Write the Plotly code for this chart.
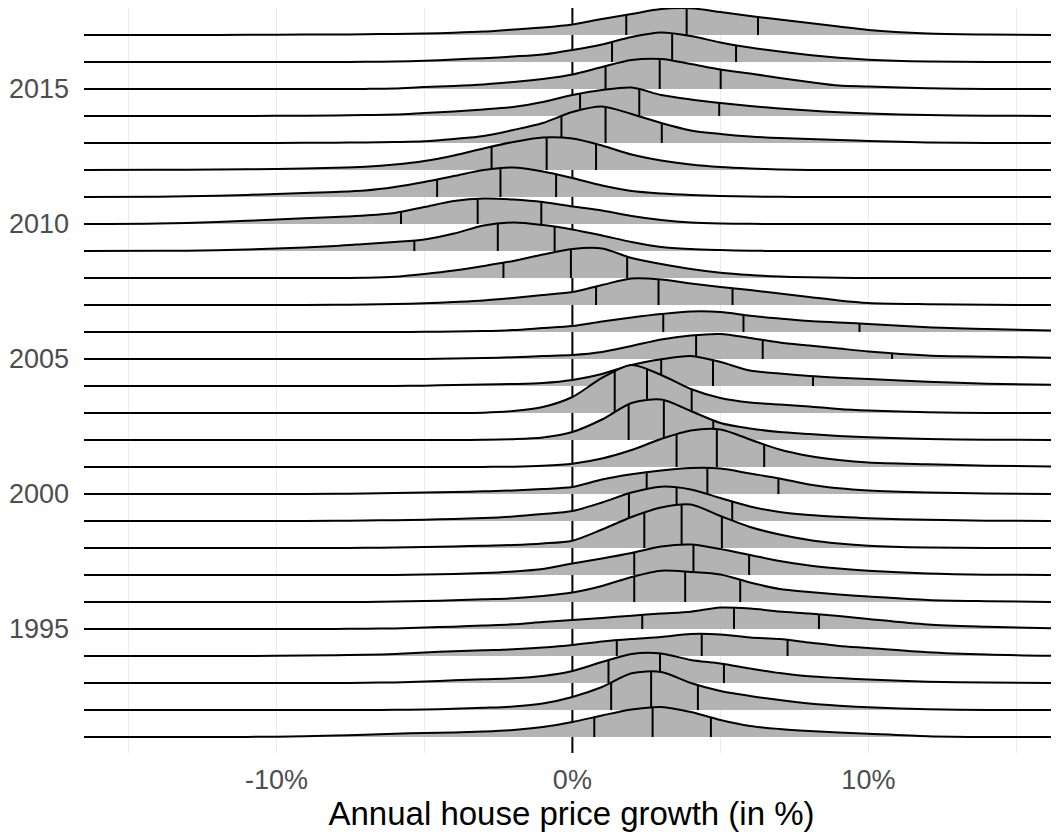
"""
Ridgeline plot of annual house price growth by year, with quartile lines.
"""

import numpy as np
import plotly.graph_objects as go

# Growth values (%) at which the ridge heights were read
GROWTH = [-16.5, -14, -12, -10, -8, -7, -6, -5, -4, -3, -2, -1, 0,
          1, 2, 3, 4, 5, 6, 7, 8, 9, 10, 12, 14, 16.5]

# Relative density per year (27 units = one row of the plot)
DENS_1991 = [0, 0, 0, 0.3, 1.5, 2.3, 3.3, 4, 4.5, 5.5, 7, 10, 15, 21.5, 27.5, 30, 25, 17, 11, 8, 6, 4.5, 3.2, 0.8, 0, 0]
DENS_1992 = [0, 0, 0, 0, 0, 0, 0.2, 0.5, 1.2, 2.2, 3.5, 6.5, 13, 23, 36.7, 38, 27, 19, 14, 10, 6.5, 4.3, 2.7, 0.7, 0, 0]
DENS_1993 = [0, 0, 0, 0, 0, 0.2, 0.6, 1.5, 2.7, 3.8, 4.7, 7, 12, 21, 29, 29.5, 23, 19.5, 14.5, 10, 6.7, 5, 3.5, 1.3, 0.5, 0]
DENS_1994 = [0, 0, 0, 0.2, 0.8, 1.2, 2, 3.5, 4.7, 5.7, 6.7, 8.5, 11, 14.5, 17, 19, 22, 21.5, 18.5, 17, 13.5, 10, 8, 3.8, 1.5, 0]
DENS_1995 = [0, 0, 0, 0, 0.1, 0.3, 0.6, 1.5, 2.3, 3.5, 4.7, 7, 9, 11, 13.3, 15.5, 17.3, 21.5, 20.5, 17.5, 15.5, 13, 10, 4.5, 2.3, 0.5]
DENS_1996 = [0, 0, 0, 0, 0, 0.1, 0.5, 1, 1.7, 2.7, 3.7, 6, 9.5, 16, 25, 31.3, 30, 27.5, 19.5, 13, 10, 7.5, 5.5, 2, 0.8, 0]
DENS_1997 = [0, 0, 0, 0, 0, 0, 0.1, 0.5, 1, 2, 3.5, 6, 11.5, 16.5, 22, 28.5, 30.5, 26, 20, 14, 9.5, 6.5, 4.3, 1.5, 0.3, 0]
DENS_1998 = [0, 0, 0, 0, 0, 0.2, 0.5, 1, 1.5, 2.3, 3, 4.5, 7.3, 18.5, 31, 40.5, 43.5, 32, 21, 13.5, 8, 4.5, 2.3, 0.5, 0, 0]
DENS_1999 = [0, 0, 0, 0, 0.2, 0.5, 0.8, 1.3, 2, 3, 4.5, 7, 10, 18.5, 28.5, 34.3, 31.5, 23, 14.5, 9, 6, 4.2, 2.8, 1.2, 0.3, 0]
DENS_2000 = [0, 0, 0, 0, 0.2, 0.5, 1, 1.5, 2, 2.7, 3.5, 5, 7, 14.5, 19.7, 23.5, 26, 25.5, 20.5, 15.5, 9.5, 5.7, 3.5, 1.5, 0.5, 0]
DENS_2001 = [0, 0, 0, 0, 0, 0, 0, 0, 0, 0.1, 0.3, 1.2, 3.3, 8.5, 17, 28, 36.5, 37.5, 27.5, 17.5, 11, 7, 4.5, 2.7, 1.3, 0.3]
DENS_2002 = [0, 0, 0, 0, 0, 0, 0, 0, 0, 0.2, 0.8, 2.5, 8, 20.5, 37, 40.5, 29, 17, 11.5, 8, 6, 4, 2.7, 1, 0.3, 0]
DENS_2003 = [0, 0, 0, 0, 0, 0, 0, 0, 0, 0.3, 2, 6, 16, 35, 48, 38, 24, 15, 10.5, 8.5, 6.5, 4, 2.5, 0.7, 0, 0]
DENS_2004 = [0, 0, 0, 0, 0, 0, 0, 0.3, 1, 1.5, 2, 3, 6, 12, 21, 26.7, 30, 24, 15.5, 12.5, 10, 8.3, 7, 4.2, 2.3, 1]
DENS_2005 = [0, 0, 0, 0, 0, 0, 0, 0.1, 0.5, 1, 1.7, 3, 4, 7, 13, 19.5, 23.5, 25, 21, 16.5, 13.5, 10.5, 7.5, 3.5, 2.3, 1.2]
DENS_2006 = [0, 0, 0, 0, 0, 0, 0, 0.2, 0.5, 1, 2, 4, 6, 10.5, 14.5, 18, 20.5, 20, 16.3, 13.5, 11, 9.5, 8, 4.8, 3, 1.3]
DENS_2007 = [0, 0, 0, 0, 0.2, 0.5, 1, 1.7, 3, 4.5, 7, 10, 13, 20, 26.5, 25.5, 21.5, 18, 15, 11.5, 8, 4.5, 2, 0.8, 0.2, 0]
DENS_2008 = [0, 0, 0, 0, 0, 0.3, 1.2, 4, 7.5, 12, 17, 23.5, 29, 29.5, 20, 14, 9, 5.3, 3, 1.5, 0.7, 0.2, 0, 0, 0, 0]
DENS_2009 = [0, 0.2, 0.7, 2.5, 5, 7, 9, 11.5, 17.5, 25.5, 28.5, 26, 21.5, 15.5, 9, 4, 2, 1, 0.3, 0, 0, 0, 0, 0, 0, 0]
DENS_2010 = [0, 0.5, 2, 4.5, 7, 8.5, 11, 17, 23, 25.5, 24.5, 22, 17.5, 13.5, 8, 4, 1.5, 0.5, 0.2, 0, 0, 0, 0, 0, 0, 0]
DENS_2011 = [0, 0.3, 1.3, 3, 5, 6.5, 10, 15, 21, 27, 29.5, 25.5, 19, 11.5, 6, 3.5, 2, 1, 0.5, 0.2, 0, 0, 0, 0, 0, 0]
DENS_2012 = [0, 0.2, 0.5, 1, 2.2, 3.3, 5.5, 9, 14.5, 21.5, 28, 32.5, 31.5, 24.5, 15.5, 9.5, 5.5, 3, 1.5, 0.5, 0, 0, 0, 0, 0, 0]
DENS_2013 = [0, 0, 0, 0.1, 0.3, 0.6, 1, 1.7, 4, 7, 13, 20, 31, 36.5, 29, 20, 12.5, 9, 6.5, 5, 4, 3, 2, 0.5, 0, 0]
DENS_2014 = [0, 0, 0, 0.2, 0.6, 1, 1.5, 3, 4.5, 6.5, 9, 14, 21, 26, 28.5, 21, 16.5, 13, 10, 7.5, 5.5, 3.8, 2.5, 1, 0.3, 0]
DENS_2015 = [0, 0, 0, 0, 0, 0.1, 0.5, 2, 3, 4.5, 7, 10, 14.5, 22, 29, 30, 25, 19.5, 15.5, 11, 7, 3.5, 2.5, 0.7, 0, 0]
DENS_2016 = [0, 0, 0, 0, 0, 0.2, 0.5, 1.2, 2.5, 3.8, 5.5, 7.5, 12, 17.5, 25, 29.5, 26, 19.5, 14.5, 10.5, 7, 4.2, 2.3, 0.5, 0, 0]
DENS_2017 = [0, 0, 0, 0.3, 0.5, 0.8, 1, 1.5, 2.3, 3.5, 5.5, 7.5, 10.5, 16, 21, 26, 26.7, 23, 19, 15.5, 12, 8.5, 5, 1.5, 0.5, 0]

YEARS = list(range(1991, 2018))

# Quartiles of annual growth (%) per year, 1991..2017
Q1 = [0.74, 1.31, 1.22, 1.5, 2.36, 2.09, 2.09, 2.43, 1.91, 2.51, 3.52, 1.9, 1.43, 3.0,
      4.18, 3.07, 0.8, -2.33, -5.34, -5.79, -4.57, -2.73, -0.37, 0.26, 1.12, 1.34, 1.82]
MEDIAN = [2.71, 2.66, 2.96, 4.37, 5.46, 3.81, 4.09, 3.69, 3.52, 4.56, 4.88, 3.09, 2.52, 4.75,
          6.43, 5.78, 2.91, -0.05, -2.52, -3.2, -2.43, -0.87, 1.12, 2.26, 2.95, 3.37, 3.86]
Q3 = [4.68, 4.24, 5.12, 7.27, 8.33, 5.67, 5.97, 5.05, 5.4, 6.96, 6.48, 4.76, 4.03, 8.13,
      10.8, 9.7, 5.41, 1.85, -0.6, -1.05, -0.55, 0.8, 3.02, 4.96, 5.01, 5.53, 6.27]

X_TICKS = [-10, 0, 10]
X_TICK_LABELS = ["-10%", "0%", "10%"]
Y_TICKS = [1995, 2000, 2005, 2010, 2015]
Y_RANGE = [1990.407, 2018.0]

DENSITIES = [DENS_1991, DENS_1992, DENS_1993, DENS_1994, DENS_1995, DENS_1996, DENS_1997,
             DENS_1998, DENS_1999, DENS_2000, DENS_2001, DENS_2002, DENS_2003, DENS_2004,
             DENS_2005, DENS_2006, DENS_2007, DENS_2008, DENS_2009, DENS_2010, DENS_2011,
             DENS_2012, DENS_2013, DENS_2014, DENS_2015, DENS_2016, DENS_2017]

ROW = 1 / 27  # density units -> rows
FILL = "#B3B3B3"
FONT = "Liberation Sans, Arial, sans-serif"


def ridge_height(q, dens):
    """Height of a ridge at growth q (cubic Hermite through the read values)."""
    x = np.asarray(GROWTH, dtype=float)
    y = np.asarray(dens, dtype=float)
    i = int(np.clip(np.searchsorted(x, q) - 1, 1, len(x) - 3))
    m0 = (y[i + 1] - y[i - 1]) / (x[i + 1] - x[i - 1])
    m1 = (y[i + 2] - y[i]) / (x[i + 2] - x[i])
    h = x[i + 1] - x[i]
    t = (q - x[i]) / h
    return ((2 * t**3 - 3 * t**2 + 1) * y[i] + (t**3 - 2 * t**2 + t) * h * m0
            + (-2 * t**3 + 3 * t**2) * y[i + 1] + (t**3 - t**2) * h * m1)


fig = go.Figure()

# reference line at zero growth, first so the ridges cover it
fig.add_trace(go.Scatter(
    x=[0, 0], y=Y_RANGE, mode="lines",
    line=dict(color="black", width=2), hoverinfo="skip", showlegend=False,
))

# top rows first, so lower rows are drawn over them
for year, dens, q1, med, q3 in reversed(list(zip(YEARS, DENSITIES, Q1, MEDIAN, Q3))):
    assert len(dens) == len(GROWTH)
    fig.add_trace(go.Scatter(
        x=GROWTH, y=[year] * len(GROWTH), mode="lines",
        line=dict(width=0), hoverinfo="skip", showlegend=False,
    ))
    fig.add_trace(go.Scatter(
        x=GROWTH, y=[year + d * ROW for d in dens], mode="lines",
        fill="tonexty", fillcolor=FILL,
        line=dict(color="black", width=2, shape="spline", smoothing=0.8),
        showlegend=False, name=str(year),
    ))
    qx, qy = [], []
    for q in (q1, med, q3):
        qx += [q, q, None]
        qy += [year, year + ridge_height(q, dens) * ROW, None]
    fig.add_trace(go.Scatter(
        x=qx, y=qy, mode="lines", line=dict(color="black", width=2),
        hoverinfo="skip", showlegend=False,
    ))

# the page body adds an 8px margin, so the figure is 8px smaller each way
fig.update_layout(
    width=1051,
    height=828,
    margin=dict(l=76, r=0, t=0, b=83),
    paper_bgcolor="white",
    plot_bgcolor="white",
    font=dict(family=FONT, color="#4D4D4D"),
    xaxis=dict(
        range=[-16.5, 16.44],
        tickvals=X_TICKS,
        ticktext=X_TICK_LABELS,
        tickfont=dict(size=27, color="#4D4D4D"),
        ticklabelstandoff=8,
        showgrid=True,
        gridcolor="#EBEBEB",
        gridwidth=1.4,
        minor=dict(tickvals=[-15, -5, 5, 15], showgrid=True, gridcolor="#EBEBEB", gridwidth=0.8),
        zeroline=False,
        showline=False,
        title=dict(text="Annual house price growth (in %)",
                   font=dict(size=33, color="black"), standoff=6),
    ),
    yaxis=dict(
        range=Y_RANGE,
        tickvals=Y_TICKS,
        tickfont=dict(size=27, color="#4D4D4D"),
        ticklabelstandoff=14,
        showgrid=False,
        zeroline=False,
        showline=False,
    ),
)

fig.write_html("out.html")
